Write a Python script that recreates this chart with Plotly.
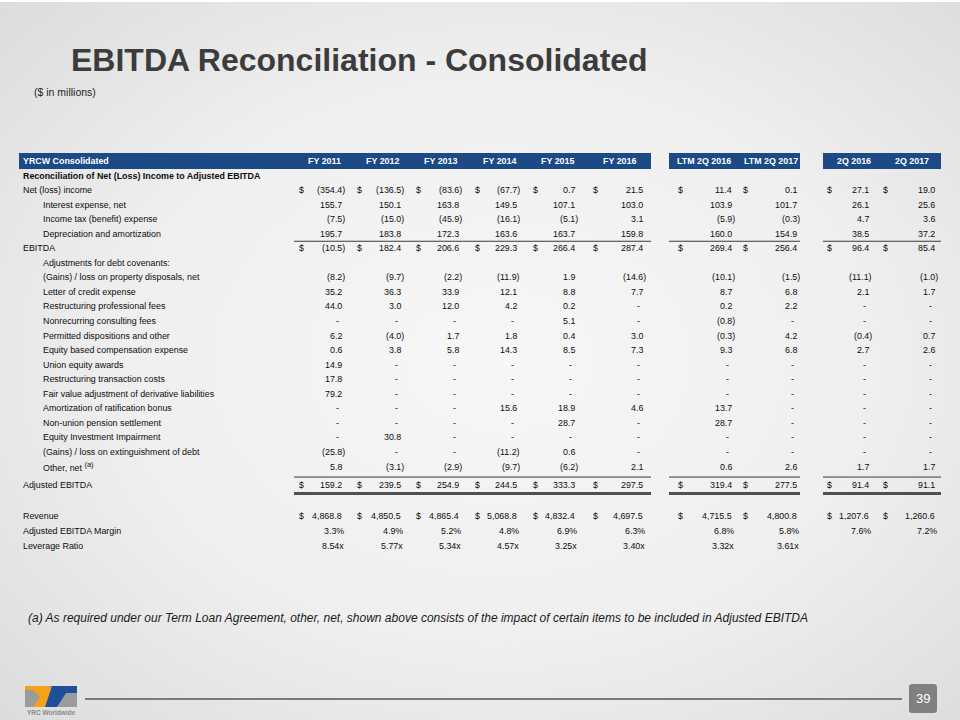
import base64
import plotly.graph_objects as go

# ---------------- data ----------------
columns = ["FY 2011", "FY 2012", "FY 2013", "FY 2014", "FY 2015", "FY 2016",
           "LTM 2Q 2016", "LTM 2Q 2017", "2Q 2016", "2Q 2017"]

net_income = [-354.4, -136.5, -83.6, -67.7, 0.7, 21.5, 11.4, 0.1, 27.1, 19.0]
interest_expense = [155.7, 150.1, 163.8, 149.5, 107.1, 103.0, 103.9, 101.7, 26.1, 25.6]
income_tax = [-7.5, -15.0, -45.9, -16.1, -5.1, 3.1, -5.9, -0.3, 4.7, 3.6]
depreciation = [195.7, 183.8, 172.3, 163.6, 163.7, 159.8, 160.0, 154.9, 38.5, 37.2]
ebitda = [-10.5, 182.4, 206.6, 229.3, 266.4, 287.4, 269.4, 256.4, 96.4, 85.4]
gains_property = [-8.2, -9.7, -2.2, -11.9, 1.9, -14.6, -10.1, -1.5, -11.1, -1.0]
letter_of_credit = [35.2, 36.3, 33.9, 12.1, 8.8, 7.7, 8.7, 6.8, 2.1, 1.7]
restructuring_fees = [44.0, 3.0, 12.0, 4.2, 0.2, None, 0.2, 2.2, None, None]
nonrecurring_consulting = [None, None, None, None, 5.1, None, -0.8, None, None, None]
permitted_dispositions = [6.2, -4.0, 1.7, 1.8, 0.4, 3.0, -0.3, 4.2, -0.4, 0.7]
equity_compensation = [0.6, 3.8, 5.8, 14.3, 8.5, 7.3, 9.3, 6.8, 2.7, 2.6]
union_equity_awards = [14.9, None, None, None, None, None, None, None, None, None]
restructuring_transaction = [17.8, None, None, None, None, None, None, None, None, None]
fair_value_adjustment = [79.2, None, None, None, None, None, None, None, None, None]
ratification_bonus = [None, None, None, 15.6, 18.9, 4.6, 13.7, None, None, None]
pension_settlement = [None, None, None, None, 28.7, None, 28.7, None, None, None]
equity_impairment = [None, 30.8, None, None, None, None, None, None, None, None]
gains_extinguishment = [-25.8, None, None, -11.2, 0.6, None, None, None, None, None]
other_net = [5.8, -3.1, -2.9, -9.7, -6.2, 2.1, 0.6, 2.6, 1.7, 1.7]
adjusted_ebitda = [159.2, 239.5, 254.9, 244.5, 333.3, 297.5, 319.4, 277.5, 91.4, 91.1]
revenue = [4868.8, 4850.5, 4865.4, 5068.8, 4832.4, 4697.5, 4715.5, 4800.8, 1207.6, 1260.6]
ebitda_margin = [3.3, 4.9, 5.2, 4.8, 6.9, 6.3, 6.8, 5.8, 7.6, 7.2]
leverage_ratio = [8.54, 5.77, 5.34, 4.57, 3.25, 3.40, 3.32, 3.61, None, None]

# (label, values, indent, bold, dollar, kind)
rows = [
    ("Reconciliation of Net (Loss) Income to Adjusted EBITDA", None, False, True, False, "num"),
    ("Net (loss) income", net_income, False, False, True, "num"),
    ("Interest expense, net", interest_expense, True, False, False, "num"),
    ("Income tax (benefit) expense", income_tax, True, False, False, "num"),
    ("Depreciation and amortization", depreciation, True, False, False, "num"),
    ("EBITDA", ebitda, False, False, True, "num"),
    ("Adjustments for debt covenants:", None, True, False, False, "num"),
    ("(Gains) / loss on property disposals, net", gains_property, True, False, False, "num"),
    ("Letter of credit expense", letter_of_credit, True, False, False, "num"),
    ("Restructuring professional fees", restructuring_fees, True, False, False, "num"),
    ("Nonrecurring consulting fees", nonrecurring_consulting, True, False, False, "num"),
    ("Permitted dispositions and other", permitted_dispositions, True, False, False, "num"),
    ("Equity based compensation expense", equity_compensation, True, False, False, "num"),
    ("Union equity awards", union_equity_awards, True, False, False, "num"),
    ("Restructuring transaction costs", restructuring_transaction, True, False, False, "num"),
    ("Fair value adjustment of derivative liabilities", fair_value_adjustment, True, False, False, "num"),
    ("Amortization of ratification bonus", ratification_bonus, True, False, False, "num"),
    ("Non-union pension settlement", pension_settlement, True, False, False, "num"),
    ("Equity Investment Impairment", equity_impairment, True, False, False, "num"),
    ("(Gains) / loss on extinguishment of debt", gains_extinguishment, True, False, False, "num"),
    ("Other, net <sup><span style='font-size:7.5px'>(a)</span></sup>", other_net, True, False, False, "num"),
    ("Adjusted EBITDA", adjusted_ebitda, False, False, True, "num"),
    ("Revenue", revenue, False, False, True, "num"),
    ("Adjusted EBITDA Margin", ebitda_margin, False, False, False, "pct"),
    ("Leverage Ratio", leverage_ratio, False, False, False, "x"),
]

title_text = "EBITDA Reconciliation - Consolidated"
subtitle_text = "($ in millions)"
footnote_text = ("(a) As required under our Term Loan Agreement, other, net, shown above consists "
                 "of the impact of certain items to be included in Adjusted EBITDA")
page_number = "39"

# ---------------- layout constants ----------------
FONT = "Liberation Sans, Arial, sans-serif"
FS = 8.9
TXT = "#0d0d0d"
NAVY = "#1b4a86"
COL_RIGHT = [346, 405, 463, 521, 579, 647, 736, 801, 873, 939]
DOLLAR_X = [298, 356, 415, 474, 532, 592, 677, 742, 826, 882]
HEAD_RIGHT = [342, 400, 458, 517, 575, 637, 732, 799, 872, 930]
SEGMENTS = [(19, 651), (669, 800), (823, 941)]
LINE_SEGMENTS = [(294, 651), (669, 800), (823, 941)]
HEADER_Y = 161
ROW_Y0 = 175.5
ROW_DY = 14.55
PAREN_W = 3.0

row_y = []
y = ROW_Y0
for i, r in enumerate(rows):
    if r[0] == "Adjusted EBITDA":
        y += 4
    if r[0] == "Revenue":
        y += 16
    row_y.append(y)
    y += ROW_DY if r[0] not in ("Revenue", "Adjusted EBITDA Margin") else 15


def fmt(v, kind):
    if v is None:
        return "" if kind == "x" else "-"
    if kind == "pct":
        return f"{v:.1f}%"
    if kind == "x":
        return f"{v:.2f}x"
    s = f"{abs(v):,.1f}"
    return f"({s})" if v < 0 else s


fig = go.Figure()
ann = []
shapes = []

# background gradient
svg = ("<svg xmlns='http://www.w3.org/2000/svg' width='960' height='720'>"
       "<defs><radialGradient id='g' cx='52%' cy='50%' r='72%'>"
       "<stop offset='0' stop-color='#f7f7f7'/><stop offset='0.55' stop-color='#efefef'/>"
       "<stop offset='1' stop-color='#dcdcdc'/></radialGradient></defs>"
       "<rect width='960' height='720' fill='url(#g)'/>"
       "<rect width='960' height='2' fill='#ffffff'/></svg>")
bg_src = "data:image/svg+xml;base64," + base64.b64encode(svg.encode()).decode()

# title
ann.append(dict(x=70, y=60, text=f"<b>{title_text}</b>", xanchor="left", yanchor="middle",
                font=dict(family="Liberation Sans, Arial", size=32, color="#3c3c3c")))
ann.append(dict(x=33, y=92, text=subtitle_text, xanchor="left", yanchor="middle",
                font=dict(family="Liberation Sans, Arial", size=10.5, color="#222222")))

# header bars
for x0, x1 in SEGMENTS:
    shapes.append(dict(type="rect", x0=x0, x1=x1, y0=153, y1=169, fillcolor=NAVY,
                       line=dict(width=0), layer="above"))
ann.append(dict(x=22, y=HEADER_Y, text="<b>YRCW Consolidated</b>", xanchor="left",
                yanchor="middle", font=dict(family=FONT, size=FS, color="white")))
for c, name in enumerate(columns):
    ann.append(dict(x=HEAD_RIGHT[c], y=HEADER_Y, text=f"<b>{name}</b>", xanchor="right",
                    yanchor="middle", font=dict(family=FONT, size=FS, color="white")))

# rows
for (label, vals, indent, bold, dollar, kind), yy in zip(rows, row_y):
    txt = f"<b>{label}</b>" if bold else label
    ann.append(dict(x=42 if indent else 22, y=yy, text=txt, xanchor="left", yanchor="middle",
                    font=dict(family=FONT, size=FS, color=TXT)))
    if vals is None:
        continue
    for c, v in enumerate(vals):
        s = fmt(v, kind)
        if s == "":
            continue
        if v is None:
            xr = COL_RIGHT[c] - PAREN_W - 3.5
        elif kind == "num" and v < 0:
            xr = COL_RIGHT[c]
        elif kind in ("pct", "x"):
            xr = COL_RIGHT[c] - 1.5
        else:
            xr = COL_RIGHT[c] - PAREN_W
        ann.append(dict(x=xr, y=yy, text=s, xanchor="right", yanchor="middle",
                        font=dict(family=FONT, size=FS, color=TXT)))
        if dollar:
            ann.append(dict(x=DOLLAR_X[c], y=yy, text="$", xanchor="left", yanchor="middle",
                            font=dict(family=FONT, size=FS, color=TXT)))

# rules
labels = [r[0] for r in rows]
y_ebitda = row_y[labels.index("EBITDA")]
y_adj = row_y[labels.index("Adjusted EBITDA")]
for x0, x1 in LINE_SEGMENTS:
    shapes.append(dict(type="line", x0=x0, x1=x1, y0=y_ebitda - 7, y1=y_ebitda - 7,
                       line=dict(color="#3a3a3a", width=1)))
    shapes.append(dict(type="line", x0=x0, x1=x1, y0=y_adj - 8, y1=y_adj - 8,
                       line=dict(color="#3a3a3a", width=1)))
    shapes.append(dict(type="line", x0=x0, x1=x1, y0=y_adj + 8.5, y1=y_adj + 8.5,
                       line=dict(color="#505050", width=3)))

# footnote
ann.append(dict(x=27, y=618, text=f"<i>{footnote_text}</i>", xanchor="left", yanchor="middle",
                font=dict(family="Liberation Sans, Arial", size=12, color="#1a1a1a")))

# bottom rule and page number
shapes.append(dict(type="line", x0=85, x1=902, y0=699, y1=699,
                   line=dict(color="#7a7a7a", width=2)))
shapes.append(dict(type="path",
                   path="M 912,684 L 934,684 Q 937,684 937,687 L 937,710 Q 937,713 934,713 "
                        "L 912,713 Q 909,713 909,710 L 909,687 Q 909,684 912,684 Z",
                   fillcolor="#808080", line=dict(width=0)))
ann.append(dict(x=923, y=698.5, text=page_number, xanchor="center", yanchor="middle",
                font=dict(family="Liberation Sans, Arial", size=13, color="white")))

# logo
shapes.append(dict(type="rect", x0=25, x1=77, y0=686, y1=707, fillcolor="#9b9b9b",
                   line=dict(width=0)))
shapes.append(dict(type="path", path="M 25,686 L 49,686 L 57,696.5 L 47,707 L 33,707 L 40,696.5 L 33,690 L 25,690 Z",
                   fillcolor="#f5a21b", line=dict(width=0)))
shapes.append(dict(type="path", path="M 52,686 L 77,686 L 77,693 L 66,693 L 57,707 L 45,707 Z",
                   fillcolor="#1f4e9a", line=dict(width=0)))
ann.append(dict(x=51, y=712.5, text="<b>YRC Worldwide</b>", xanchor="center", yanchor="middle",
                font=dict(family="Liberation Sans, Arial", size=6.5, color="#8a8a8a")))

for a in ann:
    a.update(xref="x", yref="y", showarrow=False, borderpad=0)

fig.update_layout(
    width=960, height=720, margin=dict(l=0, r=0, t=0, b=0),
    paper_bgcolor="#ebebeb", plot_bgcolor="rgba(0,0,0,0)",
    xaxis=dict(range=[0, 960], visible=False, fixedrange=True),
    yaxis=dict(range=[720, 0], visible=False, fixedrange=True),
    annotations=ann, shapes=shapes, showlegend=False,
    images=[dict(source=bg_src, xref="paper", yref="paper", x=0, y=1, sizex=1, sizey=1,
                 xanchor="left", yanchor="top", sizing="stretch", layer="below")],
)

fig.write_html("out.html", config={"displayModeBar": False},
               post_script="document.body.style.margin='0px';document.body.style.overflow='hidden';")
